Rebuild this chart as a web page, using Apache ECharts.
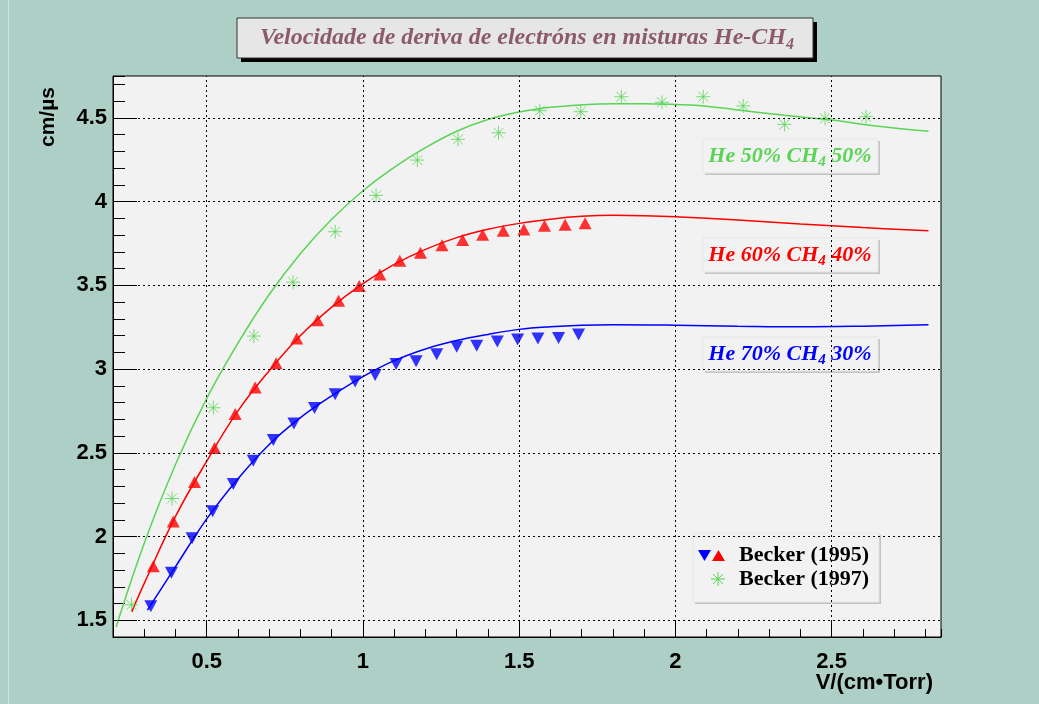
<!DOCTYPE html>
<html>
<head>
<meta charset="utf-8">
<title>Velocidade de deriva</title>
<script src="https://cdn.jsdelivr.net/npm/echarts@6/dist/echarts.min.js"></script>
<style>
html,body{margin:0;padding:0;background:#aecfc6;}
#chart{width:1039px;height:704px;}
</style>
</head>
<body>
<div id="chart"></div>
<script>
// Becker (1995) - He 70% CH4 30%
var blueX = [0.321,0.387,0.453,0.519,0.585,0.649,0.713,0.779,0.845,0.911,0.975,1.039,1.106,1.170,1.236,1.300,1.364,1.430,1.495,1.560,1.626,1.690];
var blueY = [1.584,1.783,1.990,2.151,2.313,2.452,2.576,2.675,2.768,2.850,2.926,2.964,3.030,3.047,3.089,3.133,3.139,3.165,3.177,3.183,3.185,3.207];
// Becker (1995) - He 60% CH4 40%
var redX = [0.329,0.393,0.461,0.525,0.591,0.655,0.722,0.788,0.855,0.922,0.988,1.054,1.118,1.184,1.253,1.319,1.383,1.449,1.515,1.581,1.647,1.711];
var redY = [1.823,2.090,2.325,2.528,2.731,2.890,3.034,3.183,3.292,3.408,3.496,3.565,3.647,3.694,3.739,3.770,3.802,3.826,3.834,3.856,3.862,3.870];
// Becker (1997) - He 50% CH4 50%
var greenX = [0.259,0.389,0.521,0.651,0.776,0.911,1.042,1.174,1.304,1.434,1.566,1.697,1.827,1.957,2.089,2.217,2.349,2.479,2.610];
var greenY = [1.592,2.227,2.769,3.197,3.519,3.820,4.037,4.248,4.372,4.411,4.543,4.537,4.626,4.593,4.626,4.571,4.461,4.497,4.507];

// curvas
var fit50X = [0.21,0.3,0.4,0.5,0.6,0.7,0.8,0.9,1.0,1.1,1.2,1.3,1.4,1.5,1.6,1.7,1.8,1.9,2.0,2.1,2.2,2.35,2.5,2.65,2.81];
var fit50Y = [1.46,1.96,2.43,2.825,3.155,3.445,3.69,3.895,4.065,4.205,4.322,4.42,4.49,4.535,4.563,4.578,4.585,4.585,4.58,4.57,4.547,4.515,4.487,4.45,4.42];
var fit60X = [0.26,0.3,0.4,0.5,0.6,0.7,0.8,0.9,1.0,1.1,1.2,1.3,1.4,1.5,1.6,1.7,1.8,1.9,2.0,2.2,2.4,2.6,2.81];
var fit60Y = [1.55,1.72,2.12,2.45,2.75,2.99,3.20,3.37,3.51,3.625,3.715,3.785,3.835,3.87,3.895,3.912,3.918,3.916,3.91,3.89,3.866,3.845,3.826];
var fit70X = [0.31,0.4,0.5,0.6,0.7,0.8,0.9,1.0,1.1,1.2,1.3,1.4,1.5,1.6,1.7,1.8,2.0,2.2,2.4,2.6,2.81];
var fit70Y = [1.56,1.82,2.105,2.345,2.55,2.71,2.84,2.955,3.05,3.12,3.17,3.207,3.237,3.253,3.262,3.265,3.262,3.256,3.252,3.256,3.264];

var xMajor = [0.5,1,1.5,2,2.5];
var yMajor = [1.5,2,2.5,3,3.5,4,4.5];

var cBlue = '#0000ff', cRed = '#ff0000', cGreen = '#59d454';

function pairs(xs, ys){
  var out = [];
  for (var i = 0; i < xs.length; i++) out.push([xs[i], ys[i]]);
  return out;
}
function majorLabel(v){
  var r = Math.round(v*10)/10;
  if (Math.abs(r*2 - Math.round(r*2)) > 1e-9) return '';
  return String(r);
}

var starPath = 'path://M0,-10L0,10M-10,0L10,0M-7.07,-7.07L7.07,7.07M-7.07,7.07L7.07,-7.07';
var sans = 'Liberation Sans, Arial, sans-serif';
var serif = 'Liberation Serif, Times New Roman, serif';

function labelBox(y, color, a, b){
  return {
    type:'group', children:[
      {type:'rect', shape:{x:705, y:y+2, width:175, height:34}, style:{fill:'#c4c4c4'}},
      {type:'rect', shape:{x:703, y:y, width:175, height:34}, style:{fill:'#f2f2f2', stroke:'#e6e6e6'}},
      {type:'text', x:790, y:y+17, style:{
        text:'{a|' + a + '}{s|4}{a|' + b + '}',
        align:'center', verticalAlign:'middle',
        rich:{
          a:{fontFamily:serif, fontStyle:'italic', fontWeight:'bold', fontSize:22, fill:color, lineHeight:28},
          s:{fontFamily:serif, fontStyle:'italic', fontWeight:'bold', fontSize:15, fill:color, verticalAlign:'bottom', lineHeight:15}
        }
      }}
    ]
  };
}

var chart = echarts.init(document.getElementById('chart'));
var option = {
  backgroundColor:'#aecfc6',
  animation:false,
  grid:{left:113, top:76, width:828, height:561, show:true, backgroundColor:'#f2f2f2', borderColor:'#000', borderWidth:1},
  xAxis:[{
    type:'value', min:0.2, max:2.85, interval:0.1,
    axisLine:{show:true, onZero:false, lineStyle:{color:'#000'}},
    axisTick:{inside:true, length:8, lineStyle:{color:'#000'}},
    axisLabel:{formatter:majorLabel, color:'#000', fontFamily:sans, fontWeight:'bold', fontSize:22, margin:14},
    splitLine:{show:false}
  },{
    type:'value', min:0.2, max:2.85, position:'bottom',
    axisLine:{show:false, onZero:false},
    axisTick:{inside:true, length:16, customValues:xMajor, lineStyle:{color:'#000'}},
    axisLabel:{show:false},
    splitLine:{show:false}
  }],
  yAxis:[{
    type:'value', min:1.4, max:4.75, interval:0.1,
    axisLine:{show:true, onZero:false, lineStyle:{color:'#000'}},
    axisTick:{inside:true, length:12, lineStyle:{color:'#000'}},
    axisLabel:{formatter:majorLabel, color:'#000', fontFamily:sans, fontWeight:'bold', fontSize:22, margin:6},
    splitLine:{show:false}
  },{
    type:'value', min:1.4, max:4.75, position:'left',
    axisLine:{show:false, onZero:false},
    axisTick:{inside:true, length:24, customValues:yMajor, lineStyle:{color:'#000'}},
    axisLabel:{show:false},
    splitLine:{show:false}
  }],
  series:[
    {
      name:'grid', type:'line', data:[], silent:true, z:1,
      markLine:{
        silent:true, symbol:['none','none'], label:{show:false},
        lineStyle:{color:'#000', type:[2,3], width:1},
        data: xMajor.map(function(v){ return {xAxis:v}; }).concat(yMajor.map(function(v){ return {yAxis:v}; }))
      }
    },
    {name:'He 50% CH4 50%', type:'line', data:pairs(fit50X, fit50Y), smooth:0.4, showSymbol:false, z:3,
      lineStyle:{color:cGreen, width:1.5}},
    {name:'He 60% CH4 40%', type:'line', data:pairs(fit60X, fit60Y), smooth:0.4, showSymbol:false, z:3,
      lineStyle:{color:cRed, width:1.5}},
    {name:'He 70% CH4 30%', type:'line', data:pairs(fit70X, fit70Y), smooth:0.4, showSymbol:false, z:3,
      lineStyle:{color:cBlue, width:1.5}},
    {name:'Becker (1995) 70/30', type:'scatter', data:pairs(blueX, blueY), symbol:'triangle', symbolRotate:180,
      symbolSize:[13,12], itemStyle:{color:cBlue}, z:4},
    {name:'Becker (1995) 60/40', type:'scatter', data:pairs(redX, redY), symbol:'triangle',
      symbolSize:[13,12], itemStyle:{color:cRed}, z:4},
    {name:'Becker (1997)', type:'scatter', data:pairs(greenX, greenY), symbol:starPath, symbolSize:14,
      itemStyle:{color:cGreen, borderColor:cGreen, borderWidth:1}, z:4}
  ],
  graphic:[
    // borda do canvas
    {type:'line', shape:{x1:8.5, y1:0, x2:8.5, y2:704}, style:{stroke:'#cfe3dd', lineWidth:1}},
    // titulo
    {type:'rect', shape:{x:241, y:22, width:576, height:40}, style:{fill:'#000'}},
    {type:'rect', shape:{x:237, y:18, width:576, height:40}, style:{fill:'#e6e6e6', stroke:'#333', lineWidth:1}},
    {type:'text', x:527, y:38, style:{
      text:'{a|Velocidade de deriva de electróns en misturas He-CH}{s|4}',
      align:'center', verticalAlign:'middle',
      rich:{
        a:{fontFamily:serif, fontStyle:'italic', fontWeight:'bold', fontSize:24, fill:'#8b5a6b', lineHeight:30},
        s:{fontFamily:serif, fontStyle:'italic', fontWeight:'bold', fontSize:16, fill:'#8b5a6b', verticalAlign:'bottom', lineHeight:16}
      }
    }},
    labelBox(139, cGreen, 'He 50% CH', ' 50%'),
    labelBox(238, cRed, 'He 60% CH', ' 40%'),
    labelBox(337, cBlue, 'He 70% CH', ' 30%'),
    // lenda
    {type:'rect', shape:{x:695, y:535, width:186, height:69}, style:{fill:'#c4c4c4'}},
    {type:'rect', shape:{x:693, y:533, width:186, height:69}, style:{fill:'#f2f2f2', stroke:'#e6e6e6'}},
    {type:'polygon', shape:{points:[[698,550],[711,550],[704.5,561]]}, style:{fill:cBlue}},
    {type:'polygon', shape:{points:[[712,561],[725,561],[718.5,550]]}, style:{fill:cRed}},
    {type:'group', x:718, y:579, children:[
      {type:'line', shape:{x1:0, y1:-7, x2:0, y2:7}, style:{stroke:cGreen, lineWidth:1}},
      {type:'line', shape:{x1:-7, y1:0, x2:7, y2:0}, style:{stroke:cGreen, lineWidth:1}},
      {type:'line', shape:{x1:-5, y1:-5, x2:5, y2:5}, style:{stroke:cGreen, lineWidth:1}},
      {type:'line', shape:{x1:-5, y1:5, x2:5, y2:-5}, style:{stroke:cGreen, lineWidth:1}}
    ]},
    {type:'text', x:739, y:555, style:{text:'Becker (1995)', fontFamily:serif, fontWeight:'bold', fontSize:22, fill:'#000', verticalAlign:'middle'}},
    {type:'text', x:739, y:579, style:{text:'Becker (1997)', fontFamily:serif, fontWeight:'bold', fontSize:22, fill:'#000', verticalAlign:'middle'}},
    // nomes dos eixos
    {type:'text', x:48, y:117, rotation:Math.PI/2, style:{text:'cm/µs', fontFamily:sans, fontWeight:'bold', fontSize:21, fill:'#000', align:'center', verticalAlign:'middle'}},
    {type:'text', x:933, y:683, style:{text:'V/(cm•Torr)', fontFamily:sans, fontWeight:'bold', fontSize:22, fill:'#000', align:'right', verticalAlign:'middle'}}
  ]
};
chart.setOption(option);
</script>
</body>
</html>
